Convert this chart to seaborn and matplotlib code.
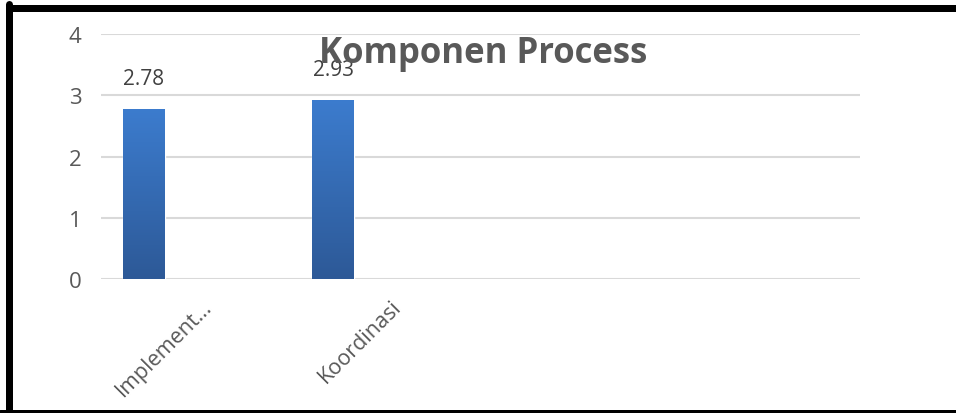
import numpy as np
import seaborn as sns
import matplotlib
matplotlib.use('Agg')
import matplotlib.pyplot as plt
from matplotlib.colors import LinearSegmentedColormap
from matplotlib.lines import Line2D
from matplotlib.transforms import ScaledTranslation

# Data
categories = ['Implement…', 'Koordinasi']
values = [2.78, 2.93]
value_labels = ['2.78', '2.93']
y_ticks = [0, 1, 2, 3, 4]
title = 'Komponen Process'

sns.set_theme(style='white')
plt.rcParams['font.family'] = ['Open Sans', 'DejaVu Sans']

fig = plt.figure(figsize=(9.56, 4.14), dpi=100)
ax = fig.add_axes([101 / 956, 1 - 280 / 414, (860 - 101) / 956, (280 - 35) / 414])

sns.barplot(x=categories, y=values, width=0.222, color='#3466ad', ax=ax)

# vertical gradient on each bar
cmap = LinearSegmentedColormap.from_list('bar', ['#2d5997', '#3c7cce'])
grad = np.linspace(0, 1, 256).reshape(-1, 1)
for patch in ax.patches:
    x0, w, h = patch.get_x(), patch.get_width(), patch.get_height()
    im = ax.imshow(grad, extent=[x0, x0 + w, 0, h], origin='lower', aspect='auto',
                   cmap=cmap, zorder=3)
    im.set_clip_path(patch)
    patch.set_zorder(2)

# value labels
for i, (v, lab) in enumerate(zip(values, value_labels)):
    ax.annotate(lab, (i, v), xytext=(0, 14), textcoords='offset points',
                ha='center', va='bottom', fontsize=15, color='#404040')

ax.set_xlim((101 - 144) / 189, (860 - 144) / 189)
ax.set_ylim(0, 4)
ax.set_yticks(y_ticks)
ax.yaxis.grid(True, color='#d9d9d9', linewidth=1.5, zorder=0)
ax.set_axisbelow(True)
for s in ax.spines.values():
    s.set_visible(False)
ax.tick_params(axis='y', length=0, pad=14, labelsize=16, labelcolor='#595959')
ax.tick_params(axis='x', length=0, pad=0, labelsize=15.5, labelcolor='#595959')
ax.set_xlabel('')
ax.set_ylabel('')

offset = ScaledTranslation(0.65, -0.24, fig.dpi_scale_trans)
for lab in ax.get_xticklabels():
    lab.set_rotation(45)
    lab.set_ha('right')
    lab.set_va('center')
    lab.set_rotation_mode('anchor')
    lab.set_transform(lab.get_transform() + offset)

fig.text(483 / 956, 1 - 54 / 414, title, ha='center', va='center',
         fontsize=25, fontweight='bold', color='#595959')

# black frame (right side cut off in the original)
fig.add_artist(Line2D([8.5 / 956, 1.0], [1 - 8.5 / 414] * 2, color='black', lw=7 * 0.72,
                      transform=fig.transFigure))
fig.add_artist(Line2D([8.5 / 956] * 2, [1 - 5 / 414, 0.0], color='black', lw=7 * 0.72,
                      transform=fig.transFigure))
fig.add_artist(Line2D([0, 1.0], [1 - 412.5 / 414] * 2, color='black', lw=5 * 0.72,
                      transform=fig.transFigure))

fig.savefig('out.png', dpi=100)
